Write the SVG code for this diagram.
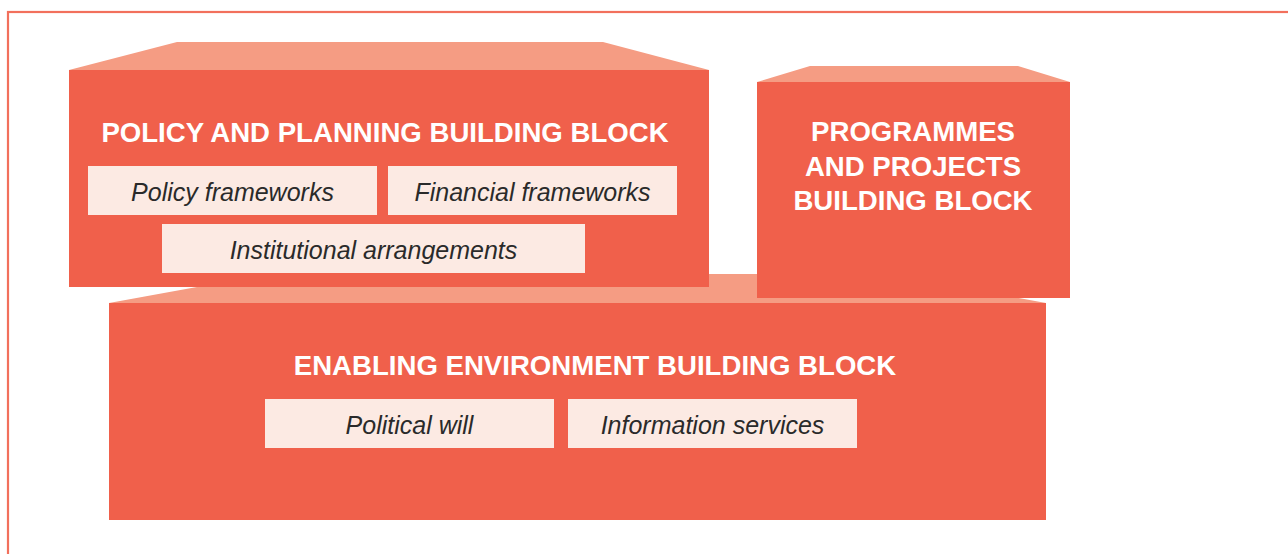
<svg xmlns="http://www.w3.org/2000/svg" width="1288" height="554" viewBox="0 0 1288 554">
<style>
.front{fill:#F0604B}
.top{fill:#F59C83}
.lbl{fill:#FCEAE3}
.title{font-family:"Liberation Sans",Arial,sans-serif;font-weight:bold;font-size:27.6px;fill:#FFFFFF;text-anchor:middle}
.item{font-family:"Liberation Sans",Arial,sans-serif;font-style:italic;font-size:25px;fill:#2A2A2A;text-anchor:middle}
</style>
<rect width="1288" height="554" fill="#FFFFFF"/>
<rect x="8" y="12" width="1300" height="560" fill="none" stroke="#F2705C" stroke-width="2.2"/>
<g id="enabling">
<polygon class="top" points="109,303 269,274 886,274 1046,303"/>
<rect class="front" x="109" y="303" width="937" height="217"/>
<text class="title" x="595" y="375">ENABLING ENVIRONMENT BUILDING BLOCK</text>
<rect class="lbl" x="265" y="399" width="289" height="49"/>
<text class="item" x="409.5" y="434">Political will</text>
<rect class="lbl" x="568" y="399" width="289" height="49"/>
<text class="item" x="712.5" y="434">Information services</text>
</g>
<g id="policy">
<polygon class="top" points="69,70 177,42 603,42 709,70"/>
<rect class="front" x="69" y="70" width="640" height="217"/>
<text class="title" x="385" y="142">POLICY AND PLANNING BUILDING BLOCK</text>
<rect class="lbl" x="88" y="166" width="289" height="49"/>
<text class="item" x="232.5" y="201">Policy frameworks</text>
<rect class="lbl" x="388" y="166" width="289" height="49"/>
<text class="item" x="532.5" y="201">Financial frameworks</text>
<rect class="lbl" x="162" y="224" width="423" height="49"/>
<text class="item" x="373.5" y="259">Institutional arrangements</text>
</g>
<g id="programmes">
<polygon class="top" points="757,82 810,66 1018,66 1070,82"/>
<rect class="front" x="757" y="82" width="313" height="216"/>
<text class="title" x="913" y="141">PROGRAMMES</text>
<text class="title" x="913" y="176">AND PROJECTS</text>
<text class="title" x="913" y="210">BUILDING BLOCK</text>
</g>
<g id="connectors"></g>
</svg>
